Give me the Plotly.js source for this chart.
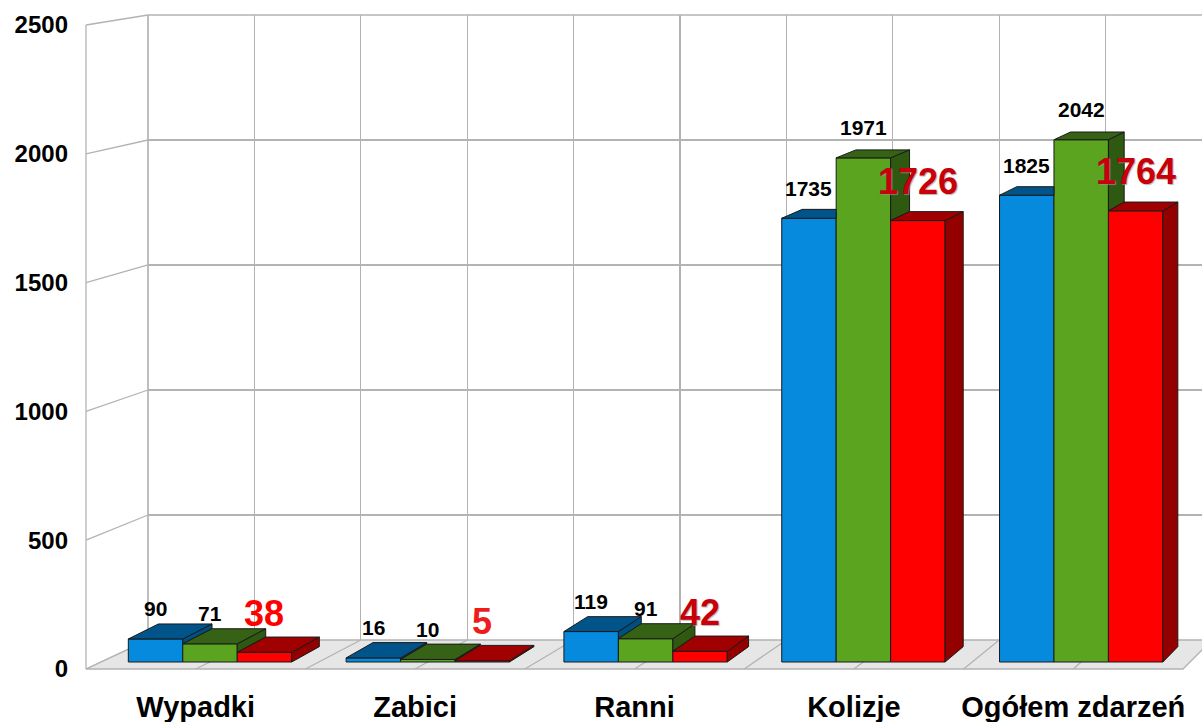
<!DOCTYPE html>
<html><head><meta charset="utf-8">
<script src="https://cdn.plot.ly/plotly-3.0.1.min.js"></script>
<style>html,body{margin:0;padding:0;background:#fff}#chart{width:1202px;height:722px}</style>
</head><body><div id="chart"></div>
<script>
// ---------------- data ----------------
const categories = ['Wypadki', 'Zabici', 'Ranni', 'Kolizje', 'Ogółem zdarzeń'];
const seriesA = [90, 16, 119, 1735, 1825];
const seriesB = [71, 10, 91, 1971, 2042];
const seriesC = [38, 5, 42, 1726, 1764];
const yTickValues = [0, 500, 1000, 1500, 2000, 2500];

// ---------------- styles / geometry ----------------
const FONT = 'Liberation Sans, Arial, sans-serif';
const W = 1202, H = 722;
const M = {l: 86, r: 0, t: 15, b: 53};
const PW = W - M.l - M.r, PH = H - M.t - M.b;
const FRONT_Y_SCALE = 0.2576;           // px per unit on left front edge
const BACK_LEFT_PX = 148, BACK_BOTTOM_PX = 640;
const BACK_CAT_PX = 212.8, FLOOR_FRONT_CAT_PX = 219.4;
const X2R = [-0.5693, 4.5546], Y2R = [-27.37, 2529.7];
const Y3R = [0, 2500 + (M.t + PH - M.t - 2500 * FRONT_Y_SCALE) / FRONT_Y_SCALE];
const BACK_XR = [-0.5, -0.5 + (W - BACK_LEFT_PX) / BACK_CAT_PX];
const BACK_YR = [0, 2500];
const FLOOR_XR = [-0.5, -0.5 + PW / FLOOR_FRONT_CAT_PX];
const VP = {x: 2187, y: -390}, DEPTH = 0.0146;
const BARGAP = 0.25, NS = 3, SLOT = (1 - BARGAP) / NS;
const GRID = '#b3b3b3', GRIDW = 1.3, EDGE = '#1a1a1a';
const FRONT_COL = ['#068ade', '#5ba41f', '#ff0000'];
const TOP_COL = ['#00548a', '#356214', '#a00000'];
const SIDE_COL = ['#004f82', '#2f5811', '#940000'];
const RED_LABEL_COL = ['#ff0000', '#ee1c1c', '#c8000a', '#c8000a', '#c8000a'];

const allSeries = [seriesA, seriesB, seriesC];

// mapping helpers (follow the axis ranges above)
const x2px = d => M.l + (d - X2R[0]) / (X2R[1] - X2R[0]) * PW;
const px2x = p => X2R[0] + (p - M.l) / PW * (X2R[1] - X2R[0]);
const y2px = v => M.t + PH - (v - Y2R[0]) / (Y2R[1] - Y2R[0]) * PH;
const px2y = p => Y2R[0] + (M.t + PH - p) / PH * (Y2R[1] - Y2R[0]);
const paperX = p => (p - M.l) / PW;
const paperY = p => (M.t + PH - p) / PH;
const persp = (p) => [p[0] + DEPTH * (VP.x - p[0]), p[1] + DEPTH * (VP.y - p[1])];
const pathData = pts => 'M ' + pts.map(p => px2x(p[0]).toFixed(5) + ',' + px2y(p[1]).toFixed(3)).join(' L ') + ' Z';
const pathPaper = pts => 'M ' + pts.map(p => paperX(p[0]).toFixed(5) + ',' + paperY(p[1]).toFixed(5)).join(' L ') + ' Z';
const linePaper = (a, b) => 'M ' + paperX(a[0]).toFixed(5) + ',' + paperY(a[1]).toFixed(5) + ' L ' + paperX(b[0]).toFixed(5) + ',' + paperY(b[1]).toFixed(5);

const frontY = v => M.t + PH - (v - Y3R[0]) / (Y3R[1] - Y3R[0]) * PH;
const backTopPx = M.t, backY = v => BACK_BOTTOM_PX - (v - BACK_YR[0]) / (BACK_YR[1] - BACK_YR[0]) * (BACK_BOTTOM_PX - backTopPx);

// ---------------- frame shapes (walls, floor) ----------------
const shapes = [];
const floorFrontL = [M.l, M.t + PH];
const nHalf = categories.length * 2;
const floorFrontR = [M.l + FLOOR_FRONT_CAT_PX * categories.length, M.t + PH];
const floorBackR = [BACK_LEFT_PX + BACK_CAT_PX * categories.length, BACK_BOTTOM_PX];
const floorBackL = [BACK_LEFT_PX, BACK_BOTTOM_PX];
shapes.push({type: 'path', xref: 'paper', yref: 'paper', layer: 'below',
  path: pathPaper([floorFrontL, floorFrontR, floorBackR, floorBackL]),
  fillcolor: '#e6e6e6', line: {color: GRID, width: GRIDW}});
for (let k = 1; k < nHalf; k++) {
  shapes.push({type: 'path', xref: 'paper', yref: 'paper', layer: 'below',
    path: linePaper([M.l + FLOOR_FRONT_CAT_PX / 2 * k, M.t + PH], [BACK_LEFT_PX + BACK_CAT_PX / 2 * k, BACK_BOTTOM_PX]),
    line: {color: GRID, width: GRIDW}});
}
yTickValues.forEach(v => {
  shapes.push({type: 'path', xref: 'paper', yref: 'paper', layer: 'below',
    path: linePaper([M.l, frontY(v)], [BACK_LEFT_PX, backY(v)]),
    line: {color: GRID, width: GRIDW}});
});
shapes.push({type: 'path', xref: 'paper', yref: 'paper', layer: 'below',
  path: linePaper([M.l, frontY(0)], [M.l, frontY(2500)]), line: {color: GRID, width: GRIDW}});
shapes.push({type: 'path', xref: 'paper', yref: 'paper', layer: 'below',
  path: linePaper([BACK_LEFT_PX, backY(0)], [BACK_LEFT_PX, backY(2500)]), line: {color: GRID, width: GRIDW + 0.4}});
shapes.push({type: 'path', xref: 'paper', yref: 'paper', layer: 'below',
  path: linePaper([BACK_LEFT_PX, backY(2500)], [W + 20, backY(2500)]), line: {color: GRID, width: GRIDW}});

// ---------------- 3D faces of bars (tops & right sides) ----------------
for (let c = 0; c < categories.length; c++) {
  for (let s = 0; s < NS; s++) {
    const v = allSeries[s][c];
    const xL = x2px(c - (1 - BARGAP) / 2 + s * SLOT);
    const xR = x2px(c - (1 - BARGAP) / 2 + (s + 1) * SLOT);
    const yT = y2px(v), yB = y2px(0);
    const hasNext = s < NS - 1;
    const vn = hasNext ? allSeries[s + 1][c] : null;
    const bL = persp([xL, yT]), bR = persp([xR, yT]);
    // side face
    if (!hasNext || vn < v) {
      const yLow = hasNext ? y2px(vn) : yB;
      const pLow = persp([xR, yLow]);
      shapes.push({type: 'path', xref: 'x2', yref: 'y2', layer: 'above',
        path: pathData([[xR, yLow], [xR, yT], bR, pLow]),
        fillcolor: SIDE_COL[s], line: {color: EDGE, width: 1}});
    }
    // top face
    let topPts;
    if (hasNext && vn >= v) topPts = [[xL, yT], [xR, yT], [xR, bR[1]], bL];
    else topPts = [[xL, yT], [xR, yT], bR, bL];
    shapes.push({type: 'path', xref: 'x2', yref: 'y2', layer: 'above',
      path: pathData(topPts), fillcolor: TOP_COL[s], line: {color: EDGE, width: 1}});
  }
}

// ---------------- data labels ----------------
const annotations = [];
for (let s = 0; s < NS; s++) {
  for (let c = 0; c < categories.length; c++) {
    const v = allSeries[s][c];
    const big = s === NS - 1;
    annotations.push({
      xref: 'x2', yref: 'y2', x: c - (1 - BARGAP) / 2 + (s + 0.5) * SLOT, y: v,
      text: String(v), showarrow: false, yanchor: 'middle', xanchor: 'center',
      yshift: big ? 39 : 30,
      font: big ? {family: FONT, size: 36, weight: 'bold', color: RED_LABEL_COL[c],
                   shadow: c >= 2 ? '1px 1px 1px rgba(150,150,150,0.7)' : 'none'}
                : {family: FONT, size: 21, weight: 'bold', color: '#000'}
    });
  }
}

// ---------------- traces ----------------
const traces = [
  {type: 'scatter', x: [], y: [], xaxis: 'x', yaxis: 'y', hoverinfo: 'skip', showlegend: false},
];
allSeries.forEach((vals, s) => traces.push({
  type: 'bar', x: categories, y: vals, xaxis: 'x2', yaxis: 'y2',
  marker: {color: FRONT_COL[s], line: {color: EDGE, width: 1}},
  hoverinfo: 'skip', showlegend: false
}));
traces.push({type: 'scatter', x: [], y: [], xaxis: 'x3', yaxis: 'y2', hoverinfo: 'skip', showlegend: false});
traces.push({type: 'scatter', x: [], y: [], xaxis: 'x2', yaxis: 'y3', hoverinfo: 'skip', showlegend: false});

const noAxis = {showgrid: false, zeroline: false, showticklabels: false, ticks: '', showline: false, fixedrange: true};
const layout = {
  width: W, height: H, margin: M,
  paper_bgcolor: '#ffffff', plot_bgcolor: 'rgba(0,0,0,0)',
  showlegend: false, hovermode: false,
  barmode: 'group', bargap: BARGAP, bargroupgap: 0,
  font: {family: FONT, color: '#000'},
  xaxis: Object.assign({}, noAxis, {domain: [paperX(BACK_LEFT_PX), 1], range: BACK_XR, type: 'linear',
    showgrid: true, gridcolor: GRID, gridwidth: GRIDW, tick0: -0.5, dtick: 0.5, anchor: 'y'}),
  yaxis: Object.assign({}, noAxis, {domain: [paperY(BACK_BOTTOM_PX), 1], range: BACK_YR,
    showgrid: true, gridcolor: GRID, gridwidth: GRIDW, tick0: 0, dtick: 500, anchor: 'x'}),
  xaxis2: Object.assign({}, noAxis, {domain: [0, 1], range: X2R, type: 'category', anchor: 'y2'}),
  yaxis2: Object.assign({}, noAxis, {domain: [0, 1], range: Y2R, anchor: 'x2'}),
  xaxis3: Object.assign({}, noAxis, {overlaying: 'x2', anchor: 'y2', side: 'bottom', type: 'linear',
    range: FLOOR_XR, showticklabels: true, tickmode: 'array',
    tickvals: categories.map((_, i) => i), ticktext: categories, ticklabelstandoff: 18,
    tickfont: {family: FONT, size: 29, weight: 'bold', color: '#000'}}),
  yaxis3: Object.assign({}, noAxis, {overlaying: 'y2', anchor: 'x2', side: 'left',
    range: Y3R, showticklabels: true, tickmode: 'array', tickvals: yTickValues,
    ticktext: yTickValues.map(String), ticklabelstandoff: 17,
    tickfont: {family: FONT, size: 24, weight: 'bold', color: '#000'}}),
  shapes: shapes,
  annotations: annotations
};
Plotly.newPlot('chart', traces, layout, {displayModeBar: false, staticPlot: true});
</script></body></html>
